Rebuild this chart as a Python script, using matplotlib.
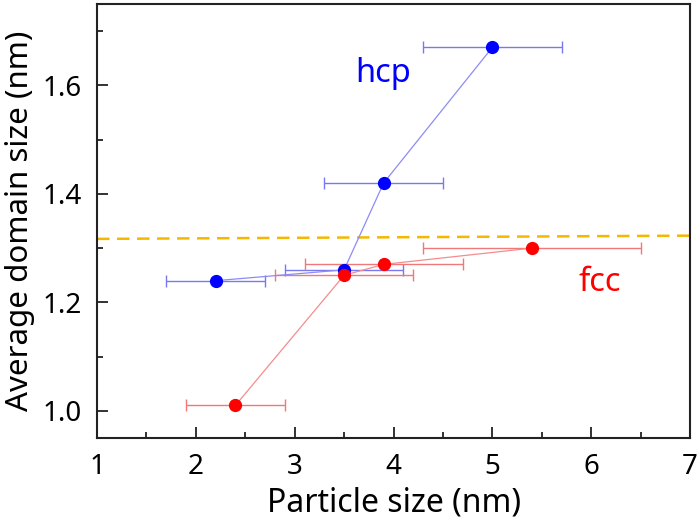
import matplotlib
matplotlib.use("Agg")
import matplotlib.pyplot as plt
from matplotlib.ticker import MultipleLocator

plt.rcParams['font.family'] = ['Noto Sans', 'DejaVu Sans']

# hcp series
hcp_x = [2.2, 3.5, 3.9, 5.0]
hcp_y = [1.24, 1.26, 1.42, 1.67]
hcp_xerr = [0.5, 0.6, 0.6, 0.7]

# fcc series
fcc_x = [2.4, 3.5, 3.9, 5.4]
fcc_y = [1.01, 1.25, 1.27, 1.30]
fcc_xerr = [0.5, 0.7, 0.8, 1.1]

# reference dashed line
ref_x = [1.0, 7.0]
ref_y = [1.317, 1.323]

fig = plt.figure(figsize=(7.0, 5.23), dpi=100)
ax = fig.add_axes([0.1386, 0.1625, 0.8471, 0.8299])

ax.plot(ref_x, ref_y, color='#F5B800', lw=1.8, ls=(0, (5, 3)), zorder=1)

ax.errorbar(hcp_x, hcp_y, xerr=hcp_xerr, fmt='none', ecolor='#7878F0',
            elinewidth=1.0, capsize=4, capthick=1.0, zorder=2)
ax.plot(hcp_x, hcp_y, color='#8C8CF5', lw=0.9, zorder=3)
ax.plot(hcp_x, hcp_y, 'o', color='#0000FF', ms=8.5, mec='#0000FF', zorder=4)

ax.errorbar(fcc_x, fcc_y, xerr=fcc_xerr, fmt='none', ecolor='#F07878',
            elinewidth=1.0, capsize=4, capthick=1.0, zorder=2)
ax.plot(fcc_x, fcc_y, color='#F58C8C', lw=0.9, zorder=3)
ax.plot(fcc_x, fcc_y, 'o', color='#FF0000', ms=8.5, mec='#FF0000', zorder=4)

ax.text(3.9, 1.622, 'hcp', color='#0000FF', fontsize=23.5, ha='center', va='center')
ax.text(6.09, 1.236, 'fcc', color='#FF0000', fontsize=23.5, ha='center', va='center')

ax.set_xlim(1, 7)
ax.set_ylim(0.95, 1.75)
ax.xaxis.set_major_locator(MultipleLocator(1))
ax.xaxis.set_minor_locator(MultipleLocator(0.5))
ax.set_yticks([1.0, 1.2, 1.4, 1.6])
ax.set_yticklabels(['1.0', '1.2', '1.4', '1.6'])
ax.yaxis.set_minor_locator(MultipleLocator(0.1))

ax.tick_params(which='both', direction='in', top=False, right=False,
               labelsize=20, width=1.3, color='#222222', pad=11)
ax.tick_params(which='major', length=8)
ax.tick_params(which='minor', length=4.5)
for s in ax.spines.values():
    s.set_linewidth(1.5)
    s.set_color('#222222')

ax.set_xlabel('Particle size (nm)', fontsize=23, labelpad=4)
ax.set_ylabel('Average domain size (nm)', fontsize=22.5, labelpad=5)

fig.savefig('out.png', dpi=100)
